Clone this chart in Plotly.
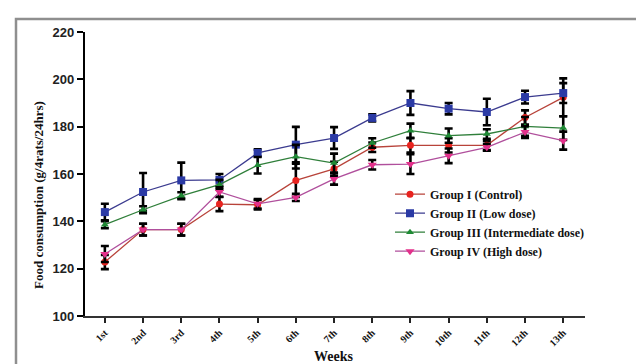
import plotly.graph_objects as go

weeks = ["1st", "2nd", "3rd", "4th", "5th", "6th", "7th", "8th", "9th", "10th", "11th", "12th", "13th"]

g1_mean = [122.8, 136.5, 136.5, 147.3, 147.0, 157.3, 162.2, 171.3, 172.1, 172.1, 172.1, 183.9, 192.4]
g1_err = [3.0, 2.5, 2.5, 3.0, 2.0, 7.0, 3.0, 2.0, 3.0, 3.0, 2.0, 3.0, 8.0]

g2_mean = [143.9, 152.4, 157.3, 157.5, 168.9, 172.4, 175.2, 183.7, 190.0, 187.6, 186.2, 192.5, 194.2]
g2_err = [3.5, 8.0, 7.5, 2.5, 1.5, 7.5, 4.6, 1.5, 5.0, 2.4, 5.6, 2.7, 4.2]

g3_mean = [138.6, 144.9, 150.8, 155.5, 163.7, 167.3, 164.6, 173.1, 178.3, 176.2, 176.9, 180.1, 179.4]
g3_err = [1.5, 1.5, 1.5, 2.0, 3.5, 5.0, 4.0, 2.0, 3.0, 3.0, 2.0, 4.0, 5.0]

g4_mean = [126.2, 136.5, 136.5, 152.4, 147.4, 150.1, 157.9, 163.9, 164.2, 167.7, 171.3, 177.7, 174.1]
g4_err = [3.4, 2.5, 2.5, 2.0, 2.0, 1.5, 2.4, 2.0, 4.2, 3.1, 1.5, 2.5, 3.8]

names = ["Group I (Control)", "Group II (Low dose)",
         "Group III (Intermediate dose)", "Group IV (High dose)"]
y_ticks = [100, 120, 140, 160, 180, 200, 220]

x_idx = list(range(1, len(weeks) + 1))

series = [
    (g1_mean, g1_err, "#b8433a", "#e8231f", "circle", 7),
    (g2_mean, g2_err, "#3b3b8f", "#2b3aa5", "square", 8),
    (g3_mean, g3_err, "#2f7f3a", "#1f8a35", "triangle-up", 7),
    (g4_mean, g4_err, "#b04f9c", "#e3308b", "triangle-down", 8),
]

fig = go.Figure()
for (m, e, lc, mc, sym, sz), nm in zip(series, names):
    fig.add_trace(go.Scatter(
        x=x_idx, y=m, name="<b>" + nm + "</b>", mode="lines+markers",
        line=dict(color=lc, width=1.3),
        marker=dict(color=mc, symbol=sym, size=sz),
        error_y=dict(type="data", array=e, visible=True, color="black",
                     thickness=2.6, width=4),
    ))

serif = "Liberation Serif"
fig.update_layout(
    width=644, height=364,
    margin=dict(l=77, r=67, t=24, b=56),
    paper_bgcolor="white", plot_bgcolor="white",
    showlegend=True,
    legend=dict(x=0.61, y=0.48, xanchor="left", yanchor="top",
                font=dict(family=serif, size=12, color="#111"),
                bgcolor="rgba(0,0,0,0)", tracegroupgap=0, itemwidth=30),
    xaxis=dict(range=[0.48, 13.57], tickmode="array", tickvals=x_idx, ticktext=weeks,
               tickangle=-45, showline=True, linecolor="#333", linewidth=2,
               ticks="outside", ticklen=5, tickwidth=2, tickcolor="#222",
               showgrid=False, zeroline=False,
               tickfont=dict(family=serif, size=10, color="#111", weight="bold")),
    yaxis=dict(range=[100, 220], tickmode="array", tickvals=y_ticks,
               showline=True, linecolor="black", linewidth=2.2,
               ticks="outside", ticklen=6, tickwidth=2, tickcolor="black",
               showgrid=False, zeroline=False,
               tickfont=dict(family="Liberation Sans", size=13, color="#222", weight="bold")),
    shapes=[dict(type="rect", xref="paper", yref="paper",
                 x0=-0.138, x1=1.14, y0=-0.21, y1=1.046,
                 line=dict(color="#8f8f8f", width=2.5), fillcolor="rgba(0,0,0,0)",
                 layer="below")],
    annotations=[
        dict(text="<b>Weeks</b>", xref="paper", yref="paper",
             x=(325 - 77) / 500, y=(308 - 348) / 284, showarrow=False,
             xanchor="center", yanchor="middle",
             font=dict(family=serif, size=14, color="#111")),
        dict(text="<b>Food consumption (g/4rats/24hrs)</b>", xref="paper", yref="paper",
             x=(30 - 77) / 500, y=(308 - 187) / 284, showarrow=False, textangle=-90,
             xanchor="center", yanchor="middle",
             font=dict(family=serif, size=13, color="#111")),
    ],
)

fig.write_html("out.html")
